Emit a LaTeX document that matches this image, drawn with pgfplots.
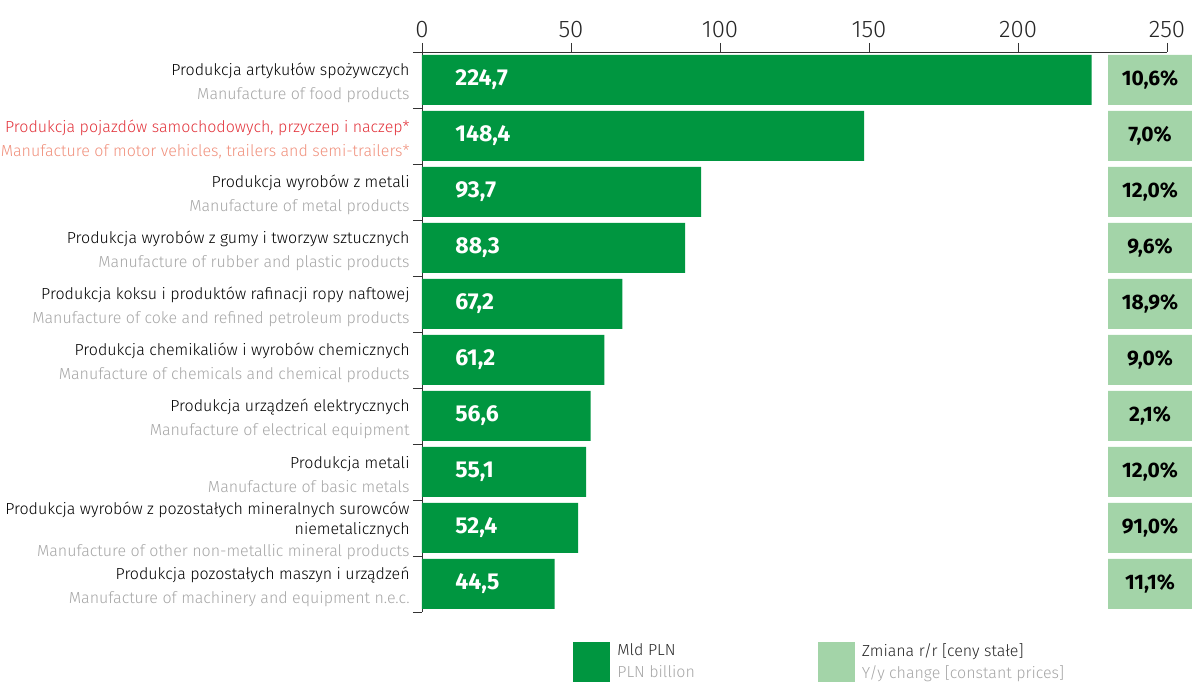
\documentclass[border=0pt]{standalone}
\usepackage{pgfplots}
\pgfplotsset{compat=1.18}
\usepackage{fontspec}
\setmainfont{Fira Sans Light}[BoldFont={Fira Sans Bold}]
\definecolor{barg}{HTML}{009640}
\definecolor{boxg}{HTML}{A3D4A8}
\definecolor{engg}{HTML}{A6A6A6}
\definecolor{plred}{HTML}{E2333B}
\definecolor{enred}{HTML}{F0907C}
\newcommand\lab[2]{#1\\\textcolor{engg}{#2}}
\begin{document}
\begin{tikzpicture}
\pgfplotsset{sq/.style={legend image code/.code={\fill[##1] (0pt,-10pt) rectangle (18.5pt,10pt);}}}
\begin{axis}[
  name=main,
  scale only axis,
  width=372.5pt, height=280pt,
  xmin=0, xmax=250,
  ymin=-0.5, ymax=9.5,
  axis x line=top,
  axis y line=left,
  axis line style={-, black!80},
  xbar, bar shift=0pt, bar width=25pt,
  xtick={0,50,...,250},
  ytick={0,...,9},
  minor ytick={-0.5,0.5,...,9.5},
  tick align=outside,
  major tick length=4.5pt,
  minor tick length=4.5pt,
  major y tick style={draw=none},
  tick style={black!80, thin},
  /pgf/number format/assume math mode=true,
  xticklabel style={font=\fontsize{12}{14}\selectfont, black!85, yshift=-1pt},
  yticklabel style={align=right, font=\fontsize{8}{12}\selectfont, inner sep=0pt, xshift=-1.5pt, yshift=-1.5pt},
  yticklabels={
    {\lab{Produkcja pozostałych maszyn i urządzeń}{Manufacture of machinery and equipment n.e.c.}},
    {Produkcja wyrobów z pozostałych mineralnych surowców\\[-2pt]niemetalicznych\\[-1pt]\textcolor{engg}{Manufacture of other non-metallic mineral products}},
    {\lab{Produkcja metali}{Manufacture of basic metals}},
    {\lab{Produkcja urządzeń elektrycznych}{Manufacture of electrical equipment}},
    {\lab{Produkcja chemikaliów i wyrobów chemicznych}{Manufacture of chemicals and chemical products}},
    {\lab{Produkcja koksu i produktów rafinacji ropy naftowej}{Manufacture of coke and refined petroleum products}},
    {\lab{Produkcja wyrobów z gumy i tworzyw sztucznych}{Manufacture of rubber and plastic products}},
    {\lab{Produkcja wyrobów z metali}{Manufacture of metal products}},
    {\textcolor{plred}{Produkcja pojazdów samochodowych, przyczep i naczep*}\\\textcolor{enred}{Manufacture of motor vehicles, trailers and semi-trailers*}},
    {\lab{Produkcja artykułów spożywczych}{Manufacture of food products}}
  },
  legend columns=2,
  legend style={at={(axis description cs:0,0)}, anchor=north west, xshift=75.5pt, yshift=-15pt,
    draw=none, fill=none, inner sep=0pt,
    nodes={inner sep=0pt, align=left, font=\fontsize{8}{11}\selectfont, text=black!85},
    /tikz/every odd column/.append style={column sep=3.5pt},
    /tikz/every even column/.append style={column sep=61.5pt}},
]
\addplot[fill=barg, draw=none, sq] coordinates {
  (44.5,0) (52.4,1) (55.1,2) (56.6,3) (61.2,4) (67.2,5) (88.3,6) (93.7,7) (148.4,8) (224.7,9)};
\addlegendentry{Mld PLN\\\textcolor{engg}{PLN billion}}
\addlegendimage{fill=boxg, draw=none, sq}
\addlegendentry{Zmiana r/r [ceny stałe]\\\textcolor{engg}{Y/y change [constant prices]}}
\addplot[forget plot, draw=none, fill=none, point meta=explicit symbolic, nodes near coords,
  every node near coord/.append style={anchor=west, inner sep=0pt, xshift=16.5pt, text=white, font=\bfseries\fontsize{11.5}{13}\selectfont}]
  coordinates {(0,0)[44,5] (0,1)[52,4] (0,2)[55,1] (0,3)[56,6] (0,4)[61,2] (0,5)[67,2] (0,6)[88,3] (0,7)[93,7] (0,8)[148,4] (0,9)[224,7]};
\end{axis}
\begin{axis}[
  at={(main.south east)}, anchor=south west, xshift=-29.5pt,
  scale only axis, width=42pt, height=280pt,
  xmin=0, xmax=1, ymin=-0.5, ymax=9.5,
  hide axis,
  xbar, bar shift=0pt, bar width=25pt,
]
\addplot[fill=boxg, draw=none, point meta=explicit symbolic, nodes near coords,
  every node near coord/.append style={anchor=center, inner sep=0pt, xshift=-21pt, text=black, font=\bfseries\fontsize{10.5}{12}\selectfont}]
  coordinates {(1,0)[11,1\%] (1,1)[91,0\%] (1,2)[12,0\%] (1,3)[2,1\%] (1,4)[9,0\%] (1,5)[18,9\%] (1,6)[9,6\%] (1,7)[12,0\%] (1,8)[7,0\%] (1,9)[10,6\%]};
\end{axis}
\pgfresetboundingbox
\path[use as bounding box] ([shift={(-211pt,26pt)}]main.north west) rectangle ([shift={(12.5pt,-35pt)}]main.south east);
\end{tikzpicture}
\end{document}
